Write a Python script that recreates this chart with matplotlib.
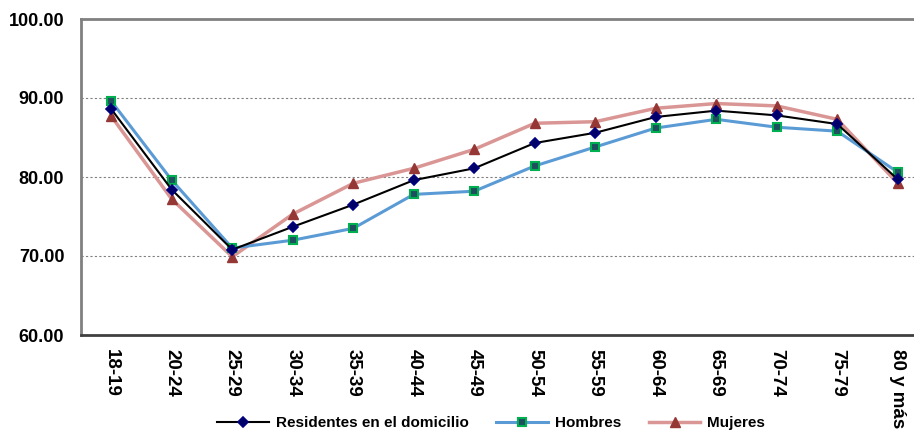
import matplotlib
matplotlib.use("Agg")
import matplotlib.pyplot as plt

categories = ["18-19", "20-24", "25-29", "30-34", "35-39", "40-44", "45-49",
              "50-54", "55-59", "60-64", "65-69", "70-74", "75-79", "80 y más"]
residentes = [88.6, 78.4, 70.8, 73.7, 76.5, 79.6, 81.1, 84.3, 85.6, 87.6, 88.4, 87.8, 86.7, 79.7]
hombres = [89.6, 79.6, 71.0, 72.0, 73.5, 77.8, 78.2, 81.4, 83.8, 86.2, 87.3, 86.3, 85.8, 80.6]
mujeres = [87.7, 77.2, 69.9, 75.3, 79.2, 81.1, 83.5, 86.8, 87.0, 88.7, 89.3, 89.0, 87.3, 79.2]
yticks = [60, 70, 80, 90, 100]

plt.rcParams['font.family'] = ['Liberation Sans', 'DejaVu Sans']

fig = plt.figure(figsize=(9.14, 4.30), dpi=100)
W, H = 914, 430
left, right, top, bottom = 81, 928, 19, 335
ax = fig.add_axes([left / W, 1 - bottom / H, (right - left) / W, (bottom - top) / H])

x = list(range(len(categories)))
l1, = ax.plot(x, residentes, color="black", lw=1.5, marker="D", ms=5.5,
              mfc="#000066", mec="#000080", mew=1.2, label="Residentes en el domicilio", zorder=4)
l2, = ax.plot(x, hombres, color="#5B9BD5", lw=2.2, marker="s", ms=6,
              mfc="#1F4E5F", mec="#00B050", mew=1.5, label="Hombres", zorder=3)
l3, = ax.plot(x, mujeres, color="#D99694", lw=2.5, marker="^", ms=7,
              mfc="#953735", mec="#953735", label="Mujeres", zorder=2)

ax.set_xlim(-0.5, len(categories) - 0.5)
ax.set_ylim(60, 100)
ax.set_yticks(yticks)
ax.set_yticklabels([f"{v:.2f}" for v in yticks], fontsize=13, fontweight="bold")
ax.set_xticks(x)
ax.set_xticklabels(categories, rotation=-90, fontsize=13.5, fontweight="bold", va="top", ha="center")
ax.tick_params(axis="both", length=0)
ax.tick_params(axis="x", pad=10)
ax.tick_params(axis="y", pad=12)

for v in [70, 80, 90]:
    ax.axhline(v, color="#808080", lw=0.8, ls=(0, (2, 2)), zorder=1)

for s in ["left", "top"]:
    ax.spines[s].set_color("#808080")
    ax.spines[s].set_linewidth(2)
ax.spines["bottom"].set_color("#404040")
ax.spines["bottom"].set_linewidth(2)
ax.spines["right"].set_visible(False)

fig.legend(handles=[l1, l2, l3], loc="center", bbox_to_anchor=(491 / W, 1 - 423 / H),
           ncol=3, frameon=False, prop={"weight": "bold", "size": 11},
           handlelength=3.4, columnspacing=1.8, handletextpad=0.45)

fig.savefig("out.png", dpi=100)
